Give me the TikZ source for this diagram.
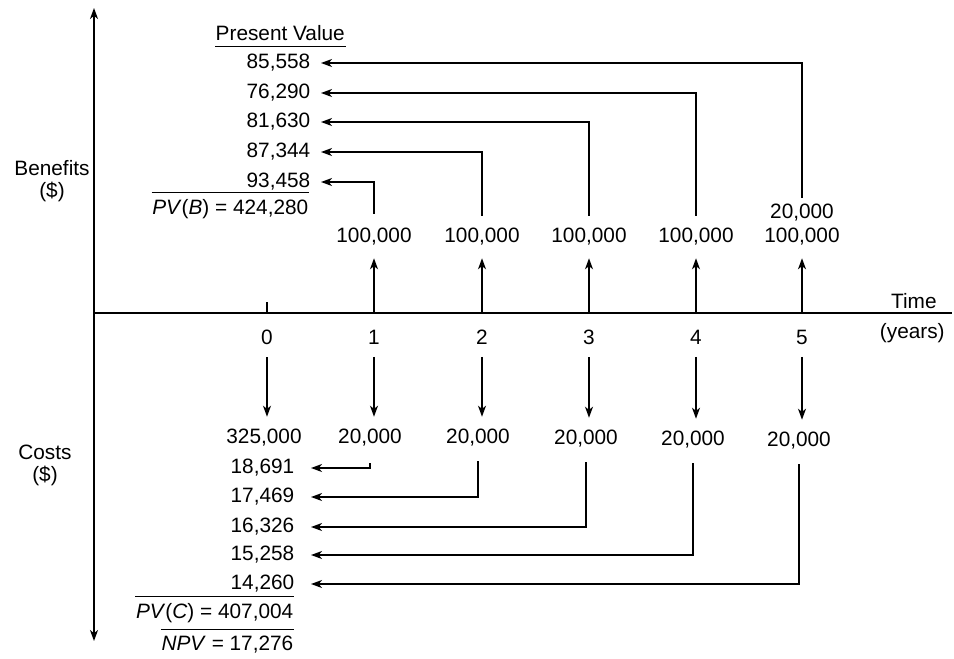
\documentclass[tikz,border=0pt]{standalone}
\usepackage{fontspec}
\setmainfont{Liberation Sans}
\usetikzlibrary{arrows.meta}

\tikzset{
  tip/.tip={Stealth[length=5.5pt,width=4pt,inset=1.6pt]},
  flow/.style={-tip},
  cash/.style={inner sep=2pt},
  pvb/.style={anchor=east, inner xsep=5pt, inner ysep=2pt},
  pvc/.style={anchor=east, inner xsep=8pt, inner ysep=2pt},
  total/.style={anchor=east, inner xsep=0pt, inner ysep=3pt},
  side/.style={align=center, font=\fontsize{10.4}{11}\selectfont},
}

\begin{document}
\begin{tikzpicture}[x=0.5pt,y=-0.5pt,line width=0.7pt,font=\fontsize{10.4}{12}\selectfont]
\useasboundingbox (0,0) rectangle (954,659);
% axes:
\coordinate (o) at (94,313);
\coordinate (ytop) at (94,8);
\coordinate (ybot) at (94,641);
\coordinate (xend) at (952,313);
\draw[tip-tip] (ybot) -- (ytop);
\draw (o) -- (xend);
\node[anchor=east] (time) at (944,301) {Time};
\node[anchor=east] (years) at (952,333) {(years)};
\node[side] (benefits) at (52,181) {Benefits\\(\$)};
\node[side] (costs) at (45,465) {Costs\\(\$)};
% time points:
\foreach \i/\x in {0/267,1/374,2/482,3/589,4/696,5/802} {
  \coordinate (t\i) at (\x,313);
  \node[cash] (yr\i) at (\x,337) {\i};
}
\draw (t0) -- ++(0,-11);
% benefits:
\node[cash] (ben1) at (374,237) {100,000};
\node[cash] (ben2) at (482,237) {100,000};
\node[cash] (ben3) at (589,237) {100,000};
\node[cash] (ben4) at (696,237) {100,000};
\node[cash,align=center] (ben5) at (802,225) {20,000\\100,000};
\draw[flow,shorten >=4pt] (t1) -- (ben1);
\draw[flow,shorten >=4pt] (t2) -- (ben2);
\draw[flow,shorten >=4pt] (t3) -- (ben3);
\draw[flow,shorten >=4pt] (t4) -- (ben4);
\draw[flow,shorten >=4pt] (t5) -- (ben5);
\node[anchor=west, inner xsep=0pt, inner ysep=2.5pt] (pvhead) at (215,33) {Present Value};
\draw (pvhead.south west) -- (pvhead.south east);
\node[pvb] (pvb5) at (321,63) {85,558};
\node[pvb] (pvb4) at (321,93) {76,290};
\node[pvb] (pvb3) at (321,122) {81,630};
\node[pvb] (pvb2) at (321,152) {87,344};
\node[pvb] (pvb1) at (321,182) {93,458};
\draw[flow] ([yshift=5pt]ben1.north) |- (pvb1.east);
\draw[flow] ([yshift=4pt]ben2.north) |- (pvb2.east);
\draw[flow] ([yshift=4pt]ben3.north) |- (pvb3.east);
\draw[flow] ([yshift=4pt]ben4.north) |- (pvb4.east);
\draw[flow] ([yshift=1pt]ben5.north) |- (pvb5.east);
\node[total] (sumb) at (309,209) {\textit{PV}(\textit{B}) = 424,280};
\draw (sumb.north west) -- (sumb.north east);
% costs:
\node[cash] (cst0) at (264,438) {325,000};
\node[cash] (cst1) at (370,438) {20,000};
\node[cash] (cst2) at (478,438) {20,000};
\node[cash] (cst3) at (586,439) {20,000};
\node[cash] (cst4) at (693,440) {20,000};
\node[cash] (cst5) at (799,441) {20,000};
\draw[flow,shorten <=4pt,shorten >=4pt] (yr0) -- (yr0 |- cst0.north);
\draw[flow,shorten <=4pt,shorten >=4pt] (yr1) -- (yr1 |- cst1.north);
\draw[flow,shorten <=4pt,shorten >=4pt] (yr2) -- (yr2 |- cst2.north);
\draw[flow,shorten <=4pt,shorten >=4pt] (yr3) -- (yr3 |- cst3.north);
\draw[flow,shorten <=4pt,shorten >=4pt] (yr4) -- (yr4 |- cst4.north);
\draw[flow,shorten <=4pt,shorten >=4pt] (yr5) -- (yr5 |- cst5.north);
\node[pvc] (pvc1) at (311,468) {18,691};
\node[pvc] (pvc2) at (311,497) {17,469};
\node[pvc] (pvc3) at (311,527) {16,326};
\node[pvc] (pvc4) at (311,555) {15,258};
\node[pvc] (pvc5) at (311,584) {14,260};
\draw[flow] ([yshift=-6pt]cst1.south) |- (pvc1.east);
\draw[flow] ([yshift=-5pt]cst2.south) |- (pvc2.east);
\draw[flow] ([yshift=-5pt]cst3.south) |- (pvc3.east);
\draw[flow] ([yshift=-5pt]cst4.south) |- (pvc4.east);
\draw[flow] ([yshift=-5pt]cst5.south) |- (pvc5.east);
\node[total] (sumc) at (294,613) {\textit{PV}(\textit{C}) = 407,004};
\draw (sumc.north west) -- (sumc.north east);
\node[total] (npv) at (294,645) {\textit{NPV} = 17,276};
\draw (npv.north west) -- (npv.north east);
\end{tikzpicture}
\end{document}
